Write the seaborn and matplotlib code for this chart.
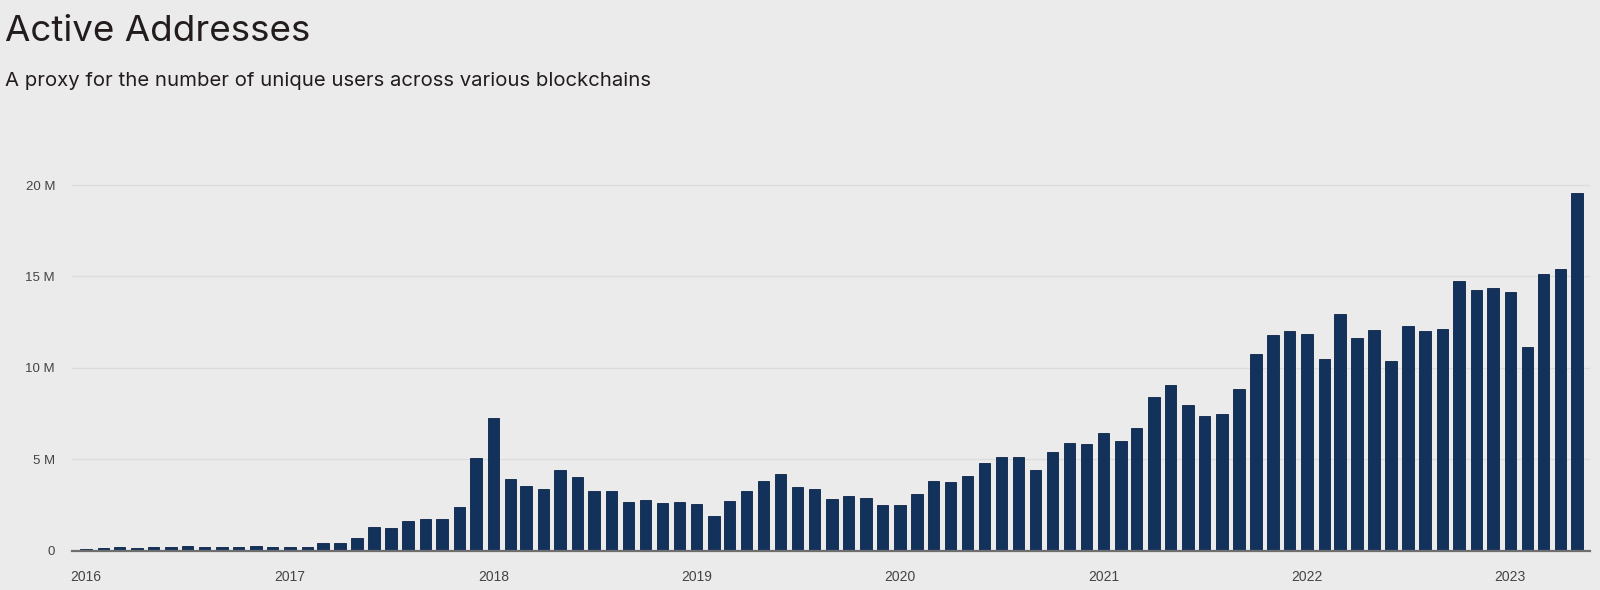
import numpy as np
import pandas as pd
import matplotlib
matplotlib.use("Agg")
import matplotlib.pyplot as plt
import matplotlib.dates as mdates
import seaborn as sns

# ---- data (millions of active addresses, monthly) ----
start_month = "2016-01-01"
n_months = 89
values_2016 = [0.11, 0.13, 0.18, 0.16, 0.22, 0.22, 0.25, 0.22, 0.22, 0.22, 0.25, 0.22]
values_2017 = [0.22, 0.22, 0.41, 0.41, 0.72, 1.31, 1.22, 1.64, 1.73, 1.73, 2.37, 5.09]
values_2018 = [7.27, 3.90, 3.54, 3.38, 4.39, 4.05, 3.27, 3.27, 2.66, 2.79, 2.59, 2.68]
values_2019 = [2.57, 1.92, 2.72, 3.29, 3.83, 4.17, 3.47, 3.38, 2.84, 3.00, 2.88, 2.52]
values_2020 = [2.52, 3.09, 3.79, 3.76, 4.08, 4.77, 5.11, 5.13, 4.39, 5.38, 5.88, 5.86]
values_2021 = [6.42, 5.99, 6.72, 8.41, 9.09, 7.99, 7.39, 7.50, 8.83, 10.77, 11.81, 12.03]
values_2022 = [11.86, 10.47, 12.94, 11.66, 12.06, 10.36, 12.30, 11.99, 12.10, 14.76, 14.25, 14.38]
values_2023 = [14.14, 11.15, 15.16, 15.42, 19.54]
y_ticks = [0, 5, 10, 15, 20]
y_tick_labels = ["0", "5 M", "10 M", "15 M", "20 M"]
title = "Active Addresses"
subtitle = "A proxy for the number of unique users across various blockchains"

values = (values_2016 + values_2017 + values_2018 + values_2019 +
          values_2020 + values_2021 + values_2022 + values_2023)
months = pd.date_range(start_month, periods=n_months, freq="MS")
df = pd.DataFrame({"month": mdates.date2num(months.to_pydatetime()),
                   "addresses": np.array(values) * 1e6})

BG = "#ebebeb"
sns.set_style("white", {"axes.facecolor": BG, "figure.facecolor": BG})
plt.rcParams["font.family"] = ["Inter", "DejaVu Sans"]

fig = plt.figure(figsize=(16, 5.9), dpi=100)
fig.patch.set_facecolor(BG)
ax = fig.add_axes([0.0448, 0.0666, 0.99375 - 0.0448, 0.7019 - 0.0666])
ax.set_facecolor(BG)

sns.barplot(data=df, x="month", y="addresses", native_scale=True, width=0.73,
            color="#12325c", saturation=1, edgecolor="#0b2247", linewidth=0.6,
            ax=ax, zorder=3)

# axes limits
left = mdates.date2num(pd.Timestamp("2015-12-06").to_pydatetime())
right = mdates.date2num(pd.Timestamp("2023-05-24").to_pydatetime())
ax.set_xlim(left, right)
ax.set_ylim(0, 20.5e6)

# grid & spines
for s in ["top", "right", "left"]:
    ax.spines[s].set_visible(False)
ax.spines["bottom"].set_color("#6e6e6e")
ax.spines["bottom"].set_linewidth(1.6)
ax.spines["bottom"].set_zorder(5)

ax.set_yticks([v * 1e6 for v in y_ticks])
ax.set_yticklabels(y_tick_labels)
ax.yaxis.grid(True, color="#dcdcdc", linewidth=1.0, zorder=0)
ax.set_axisbelow(True)
ax.tick_params(axis="y", length=0, pad=12, labelsize=9.5, labelcolor="#444444")
for lab in ax.get_yticklabels():
    lab.set_fontfamily(["Liberation Sans", "DejaVu Sans"])

ax.xaxis.set_major_locator(mdates.YearLocator())
ax.xaxis.set_major_formatter(mdates.DateFormatter("%Y"))
ax.tick_params(axis="x", length=6, width=1, color="#d2d2d2", pad=8,
               labelsize=10, labelcolor="#444444")
for lab in ax.get_xticklabels():
    lab.set_fontfamily(["Liberation Sans", "DejaVu Sans"])
ax.set_xlabel("")
ax.set_ylabel("")

fig.text(0.003, 1 - 40.7 / 590, title, fontsize=26.5, color="#231c1c",
         va="baseline", ha="left")
fig.text(0.0034, 1 - 86 / 590, subtitle, fontsize=14.6, color="#231c1c",
         va="baseline", ha="left")

fig.savefig("out.png", dpi=100, facecolor=BG)
